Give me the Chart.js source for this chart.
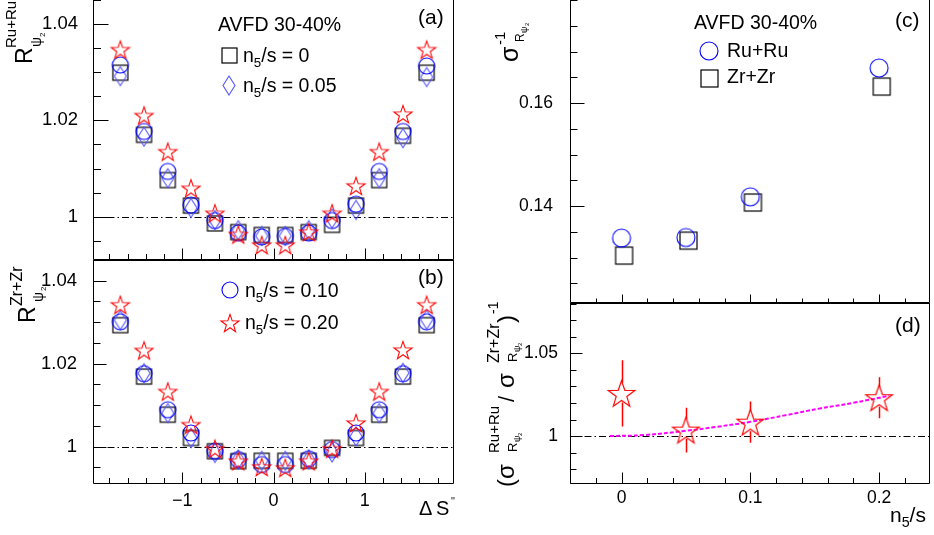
<!DOCTYPE html>
<html><head><meta charset="utf-8">
<script src="https://cdn.jsdelivr.net/npm/chart.js@4.4.1/dist/chart.umd.min.js"></script>
<style>
html,body{margin:0;padding:0;background:#fff;width:934px;height:535px;overflow:hidden;position:relative}
canvas{position:absolute;left:0;top:0}
</style></head>
<body>
<canvas id="ca" width="934" height="535"></canvas>
<canvas id="cb" width="934" height="535"></canvas>
<canvas id="cc" width="934" height="535"></canvas>
<canvas id="cd" width="934" height="535"></canvas>
<script>
// ---------------- data ----------------
const deltaS = [-1.68,-1.42,-1.16,-0.905,-0.643,-0.386,-0.129,0.129,0.386,0.643,0.905,1.16,1.42,1.68];
// Ru+Ru  (panel a)
const ruN000 = [1.0299,1.0170,1.0076,1.0023,0.9986,0.9968,0.9962,0.9962,0.9968,0.9983,1.0023,1.0076,1.0168,1.0299];
const ruN005 = [1.0292,1.0166,1.0080,1.0018,0.9993,0.9972,0.9960,0.9960,0.9972,0.9996,1.0014,1.0080,1.0163,1.0290];
const ruN010 = [1.0315,1.0177,1.0094,1.0024,0.9992,0.9966,0.9958,0.9959,0.9966,0.9992,1.0026,1.0094,1.0177,1.0313];
const ruN020 = [1.0347,1.0210,1.0135,1.0059,1.0007,0.9963,0.9941,0.9941,0.9968,1.0007,1.0064,1.0135,1.0213,1.0347];
// Zr+Zr  (panel b)
const zrN000 = [1.0293,1.0169,1.0077,1.0021,0.9989,0.9965,0.9966,0.9966,0.9966,0.9997,1.0021,1.0077,1.0169,1.0293];
const zrN005 = [1.0305,1.0177,1.0081,1.0021,0.9985,0.9969,0.9966,0.9966,0.9969,0.9986,1.0025,1.0081,1.0178,1.0306];
const zrN010 = [1.0301,1.0176,1.0089,1.0033,0.9989,0.9969,0.9957,0.9957,0.9971,0.9993,1.0033,1.0089,1.0176,1.0301];
const zrN020 = [1.0342,1.0232,1.0133,1.0053,0.9995,0.9965,0.9951,0.9949,0.9965,0.9995,1.0057,1.0133,1.0233,1.0342];
// panel c
const n5s   = [0, 0.05, 0.1, 0.2];
const n5sZr = [0.002, 0.052, 0.102, 0.202];
const sigmaRu = [0.1338, 0.1339, 0.1418, 0.1668];
const sigmaZr = [0.1304, 0.1333, 0.1407, 0.1632];
// panel d
const dblRatio = [1.0258, 1.0036, 1.0084, 1.0232];
const dblErr   = [0.0200, 0.0135, 0.0125, 0.0124];
const fitX = [-0.009, 0.017, 0.05, 0.074, 0.1, 0.128, 0.154, 0.18, 0.208];
const fitY = [1.0000, 1.0006, 1.0032, 1.0056, 1.0086, 1.0127, 1.0167, 1.0201, 1.0244];
// ticks
const yTicksAB = [1, 1.02, 1.04];   const yLabelsAB = ['1','1.02','1.04'];
const xTicksAB = [-1, 0, 1];        const xLabelsAB = ['\u22121','0','1'];
const yTicksC  = [0.14, 0.16];      const yLabelsC  = ['0.14','0.16'];
const yTicksD  = [1, 1.05];         const yLabelsD  = ['1','1.05'];
const xTicksCD = [0, 0.1, 0.2];     const xLabelsCD = ['0','0.1','0.2'];

// ---------------- helpers ----------------
const FONT = '"Liberation Sans", Arial, Helvetica, sans-serif';
const BLUE = '#0000ff', LBLUE = 'rgb(85,85,255)', RED = '#ff0000', BLACK = '#000000', MAG = '#ff00ff';
function mk(w,h,fn){const c=document.createElement('canvas');c.width=w;c.height=h;fn(c.getContext('2d'));return c;}
function mSquare(s,col,lw){const n=Math.ceil(s+lw+2);return mk(n,n,g=>{g.strokeStyle=col;g.lineWidth=lw;g.strokeRect((n-s)/2,(n-s)/2,s,s);});}
function mCircle(d,col,lw){const n=Math.ceil(d+lw+2);return mk(n,n,g=>{g.strokeStyle=col;g.lineWidth=lw;g.beginPath();g.arc(n/2,n/2,d/2,0,Math.PI*2);g.stroke();});}
function mDiamond(w,h,col,lw){const nw=Math.ceil(w+lw+2),nh=Math.ceil(h+lw+2);return mk(nw,nh,g=>{g.strokeStyle=col;g.lineWidth=lw;g.beginPath();g.moveTo(nw/2,(nh-h)/2);g.lineTo((nw+w)/2,nh/2);g.lineTo(nw/2,(nh+h)/2);g.lineTo((nw-w)/2,nh/2);g.closePath();g.stroke();});}
function mStar(R,col,lw){const n=Math.ceil(2*R+lw+3);return mk(n,n,g=>{g.translate(n/2,n/2+0.095*R);g.beginPath();for(let i=0;i<10;i++){const r=i%2?R*0.4:R;const a=-Math.PI/2+i*Math.PI/5;g.lineTo(r*Math.cos(a),r*Math.sin(a));}g.closePath();g.strokeStyle=col;g.lineWidth=lw;g.stroke();});}

const sqAB = mSquare(15,BLACK,1.2), ciAB = mCircle(16,BLUE,1.1), diAB = mDiamond(12,19,LBLUE,1.1), stAB = mStar(9.5,RED,1.1);
const sqC = mSquare(17,BLACK,1.2), ciC = mCircle(18,BLUE,1.1);
const stD = mStar(14,RED,1.2);

const pts=(xs,ys)=>xs.map((x,i)=>({x:x,y:ys[i]}));
function ds(xs,ys,img,order){return {data:pts(xs,ys),pointStyle:img,pointRadius:9,pointHoverRadius:9,showLine:false,order:order};}

function axis(min,max,ticks,labels,show,pad,size){
  return {type:'linear',min:min,max:max,bounds:'data',
    afterBuildTicks:s=>{s.ticks=ticks.map(v=>({value:v}));},
    grid:{display:false}, border:{display:false},
    ticks:{display:show,padding:pad,color:'#000',font:{family:FONT,size:size},maxRotation:0,minRotation:0,autoSkip:false,
      callback:(v,i)=>labels[i]}};
}
function T(ctx,t,size,x,y,rot){
  ctx.save();ctx.translate(x,y);if(rot)ctx.rotate(-Math.PI/2);
  ctx.font=size+'px '+FONT;ctx.fillStyle='#000';ctx.textAlign='left';ctx.textBaseline='alphabetic';
  ctx.fillText(t,0,0);ctx.restore();
}
function nLabel(ctx,x,y,size,rest){
  ctx.save();ctx.font=size+'px '+FONT;const wn=ctx.measureText('n').width;
  ctx.font=(size*0.68)+'px '+FONT;const w5=ctx.measureText('5').width;ctx.restore();
  T(ctx,'n',size,x,y);T(ctx,'5',size*0.68,x+wn,y+size*0.25);T(ctx,rest,size,x+wn+w5,y);
}
function img(ctx,im,x,y){ctx.drawImage(im,Math.round(x-im.width/2),Math.round(y-im.height/2));}

function rootPlugin(o){
  return {id:'root_'+o.name,
    beforeDatasetsDraw(chart){
      if(!o.unity)return;
      const a=chart.chartArea,ctx=chart.ctx,p=chart.scales.y.getPixelForValue(1);
      ctx.save();ctx.strokeStyle='#000';ctx.lineWidth=1;ctx.setLineDash([7,3,1.5,3]);
      ctx.beginPath();ctx.moveTo(a.left,Math.round(p)+0.5);ctx.lineTo(a.right,Math.round(p)+0.5);ctx.stroke();ctx.restore();
    },
    afterDatasetsDraw(chart){ if(o.after) o.after(chart); },
    afterDraw(chart){
      const a=chart.chartArea,ctx=chart.ctx,xs=chart.scales.x,ys=chart.scales.y;
      ctx.save();ctx.strokeStyle='#000';ctx.lineWidth=1;
      const L=Math.round(a.left)+0.5,R=Math.round(a.right)-0.5,B=Math.round(a.bottom)-0.5,Tp=Math.round(a.top)+0.5;
      ctx.beginPath();
      ctx.moveTo(L,a.top);ctx.lineTo(L,B);ctx.lineTo(R,B);ctx.lineTo(R,a.top);
      if(o.topLine){ctx.moveTo(L,Tp);ctx.lineTo(R,Tp);}
      const yk=o.yt;
      for(const v of yk.major){const p=Math.round(ys.getPixelForValue(v))+0.5;ctx.moveTo(L,p);ctx.lineTo(L+yk.maj,p);}
      for(let k=Math.ceil(ys.min/yk.step-1e-9);k*yk.step<=ys.max+1e-12;k++){const p=Math.round(ys.getPixelForValue(k*yk.step))+0.5;ctx.moveTo(L,p);ctx.lineTo(L+yk.min,p);}
      const xk=o.xt;
      for(const v of xk.major){const p=Math.round(xs.getPixelForValue(v))+0.5;ctx.moveTo(p,B);ctx.lineTo(p,B-xk.maj);}
      for(let k=Math.ceil(xs.min/xk.step-1e-9);k*xk.step<=xs.max+1e-12;k++){const p=Math.round(xs.getPixelForValue(k*xk.step))+0.5;ctx.moveTo(p,B);ctx.lineTo(p,B-xk.min);}
      ctx.stroke();ctx.restore();
      if(o.text) o.text(ctx);
    }
  };
}
function makeChart(id,o){
  const A=o.area;
  o.x.afterFit = (s)=>{s.height=535-A[3];s.paddingTop=0;s.paddingBottom=0;s.paddingLeft=0;s.paddingRight=0;};
  o.y.afterFit = (s)=>{s.width=A[0];s.paddingTop=0;s.paddingBottom=0;s.paddingLeft=0;s.paddingRight=0;};
  return new Chart(document.getElementById(id),{
    type:'scatter',
    data:{datasets:o.datasets},
    options:{responsive:false,animation:false,events:[],
      layout:{autoPadding:false,padding:{left:0,top:A[1],right:934-A[2],bottom:0}},
      plugins:{legend:{display:false},tooltip:{enabled:false}},
      scales:{x:o.x,y:o.y}},
    plugins:[rootPlugin(o)]
  });
}

// ---------------- panel (a) ----------------
makeChart('ca',{name:'a',area:[93,0,454,260],unity:true,topLine:false,
  datasets:[ds(deltaS,ruN020,stAB,0),ds(deltaS,ruN010,ciAB,1),ds(deltaS,ruN005,diAB,2),ds(deltaS,ruN000,sqAB,3)],
  x:axis(-1.98,1.98,xTicksAB,xLabelsAB,false,5,18),
  y:axis(0.991,1.045,yTicksAB,yLabelsAB,true,7,18.5),
  yt:{major:yTicksAB,step:0.005,maj:15,min:7.5}, xt:{major:xTicksAB,step:0.2,maj:11,min:5.5},
  text:(ctx)=>{
    T(ctx,'R',23,32,64,true);T(ctx,'Ru+Ru',15,16,48,true);T(ctx,'\u03C8',14,41,47,true);T(ctx,'2',8,45,37,true);
    T(ctx,'AVFD 30-40%',19.5,218,31);
    img(ctx,sqAB,229.5,55);nLabel(ctx,243,62,19.5,'/s = 0');
    img(ctx,diAB,229,85);nLabel(ctx,243,92,19.5,'/s = 0.05');
    T(ctx,'(a)',21,418,24);
  }});

// ---------------- panel (b) ----------------
makeChart('cb',{name:'b',area:[93,260,454,484],unity:true,topLine:true,
  datasets:[ds(deltaS,zrN020,stAB,0),ds(deltaS,zrN010,ciAB,1),ds(deltaS,zrN005,diAB,2),ds(deltaS,zrN000,sqAB,3)],
  x:axis(-1.98,1.98,xTicksAB,xLabelsAB,true,-2,18),
  y:axis(0.991,1.045,yTicksAB,yLabelsAB,true,8,18.5),
  yt:{major:yTicksAB,step:0.005,maj:13,min:7}, xt:{major:xTicksAB,step:0.2,maj:11,min:5.5},
  text:(ctx)=>{
    T(ctx,'R',23,35,323,true);T(ctx,'Zr+Zr',16,22,306,true);T(ctx,'\u03C8',14,43,302,true);T(ctx,'2',8,46,291,true);
    img(ctx,ciAB,230,290);nLabel(ctx,245,297,19.5,'/s = 0.10');
    img(ctx,stAB,230,323);nLabel(ctx,245,329,19.5,'/s = 0.20');
    T(ctx,'(b)',21,418,284);
    T(ctx,'\u0394',20,419,515);T(ctx,'S',20,436,515);T(ctx,"''",10,451,505);
  }});

// ---------------- panel (c) ----------------
makeChart('cc',{name:'c',area:[570,0,930,303],unity:false,topLine:false,
  datasets:[ds(n5s,sigmaRu,ciC,0),ds(n5sZr,sigmaZr,sqC,1)],
  x:axis(-0.04,0.2395,xTicksCD,xLabelsCD,false,2,17),
  y:axis(0.1212,0.18,yTicksC,yLabelsC,true,9,17.5),
  yt:{major:yTicksC,step:0.005,maj:14,min:7}, xt:{major:xTicksCD,step:0.02,maj:8,min:4},
  text:(ctx)=>{
    T(ctx,'\u03C3',25,518,62,true);T(ctx,'-1',15,505,45,true);T(ctx,'R',12,524,42,true);T(ctx,'\u03C8',9,527,33,true);T(ctx,'2',6,529,26,true);
    T(ctx,'AVFD 30-40%',19.5,694,29);
    img(ctx,ciC,709,51);T(ctx,'Ru+Ru',19.5,727,57);
    img(ctx,sqC,709,78);T(ctx,'Zr+Zr',19.5,727,83);
    T(ctx,'(c)',21,895,27);
  }});

// ---------------- panel (d) ----------------
makeChart('cd',{name:'d',area:[570,303,930,484],unity:true,topLine:true,
  datasets:[ds(n5s,dblRatio,stD,0),
    {data:pts(fitX,fitY),showLine:true,pointRadius:0,borderColor:MAG,borderWidth:2,borderDash:[4,2],tension:0.4,order:1}],
  x:axis(-0.04,0.2395,xTicksCD,xLabelsCD,true,-4,17.5),
  y:axis(0.971,1.0805,yTicksD,yLabelsD,true,4,17.5),
  yt:{major:yTicksD,step:0.01,maj:12,min:6}, xt:{major:xTicksCD,step:0.02,maj:11,min:5.5},
  after:(chart)=>{
    const ctx=chart.ctx,xs=chart.scales.x,ys=chart.scales.y;
    ctx.save();ctx.strokeStyle=RED;ctx.lineWidth=1.5;ctx.beginPath();
    n5s.forEach((x,i)=>{const px=Math.round(xs.getPixelForValue(x))+0.5,py=ys.getPixelForValue(dblRatio[i]);
      const t=ys.getPixelForValue(dblRatio[i]+dblErr[i]),b=ys.getPixelForValue(dblRatio[i]-dblErr[i]);
      ctx.moveTo(px,t);ctx.lineTo(px,py-11);ctx.moveTo(px,py+9);ctx.lineTo(px,b);});
    ctx.stroke();ctx.restore();
  },
  text:(ctx)=>{
    T(ctx,'(',24,514,487,true);T(ctx,'\u03C3',24,514,479,true);
    T(ctx,'Ru+Ru',15,499,453,true);T(ctx,'R',13,517,452,true);T(ctx,'\u03C8',9,520,442,true);T(ctx,'2',6,522,436,true);
    T(ctx,'/',22,514,402,true);T(ctx,'\u03C3',24,514,388,true);
    T(ctx,'Zr+Zr',16,499,363,true);T(ctx,'R',13,517,362,true);T(ctx,'\u03C8',9,520,352,true);T(ctx,'2',6,522,346,true);
    T(ctx,')',24,514,323,true);T(ctx,'-1',14,498,314,true);
    T(ctx,'(d)',21,895,332);
    nLabel(ctx,890,522,21,'/s');
  }});
</script>
</body></html>
